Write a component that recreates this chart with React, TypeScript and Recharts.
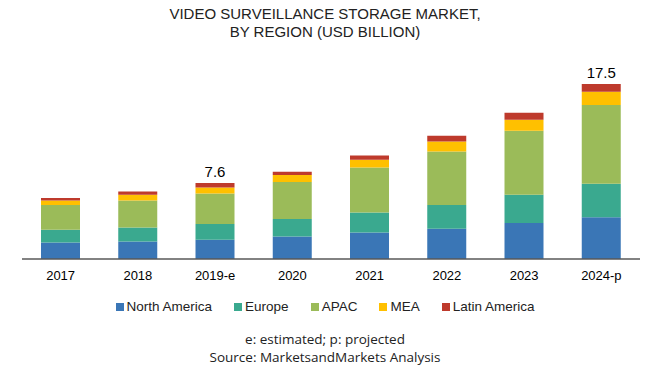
import React from "react";
import { BarChart, Bar, XAxis, YAxis, LabelList } from "recharts";

const years = ["2017", "2018", "2019-e", "2020", "2021", "2022", "2023", "2024-p"];
const northAmerica = [1.65, 1.76, 1.92, 2.26, 2.66, 3.03, 3.6, 4.17];
const europe = [1.27, 1.4, 1.59, 1.74, 2.0, 2.37, 2.83, 3.35];
const apac = [2.47, 2.7, 3.05, 3.7, 4.5, 5.36, 6.4, 7.87];
const mea = [0.46, 0.57, 0.6, 0.7, 0.77, 1.0, 1.1, 1.33];
const latinAmerica = [0.24, 0.33, 0.44, 0.33, 0.43, 0.57, 0.7, 0.78];
const shownTotals = ["2019-e", "2024-p"];

const series = [
  { key: "na", name: "North America", values: northAmerica, color: "#3A76B6" },
  { key: "eu", name: "Europe", values: europe, color: "#3AA98F" },
  { key: "apac", name: "APAC", values: apac, color: "#9BBB59" },
  { key: "mea", name: "MEA", values: mea, color: "#FFC000" },
  { key: "la", name: "Latin America", values: latinAmerica, color: "#BE3A2C" },
];

const data = years.map((year, i) => {
  const row: any = { year };
  let total = 0;
  series.forEach((s) => {
    row[s.key] = s.values[i];
    total += s.values[i];
  });
  row.total = Math.round(total * 10) / 10;
  return row;
});

const font = "'Liberation Sans', Arial, sans-serif";

const TotalLabel = (props: any) => {
  const { x, y, width, index } = props;
  const row = data[index];
  if (!shownTotals.includes(row.year)) return null;
  return (
    <text x={x + width / 2} y={y - 6} textAnchor="middle" fontSize={15} fontFamily={font} fill="#000">
      {row.total.toFixed(1)}
    </text>
  );
};

export default function App() {
  return (
    <div style={{ position: "absolute", left: 0, top: 0, width: 650, height: 369, background: "#fff", fontFamily: font }}>
      <div style={{ position: "absolute", top: 5, left: 0, width: 650, textAlign: "center", fontFamily: "'Liberation Sans Narrow', 'Liberation Sans', sans-serif", fontSize: 15, lineHeight: "18px", color: "#222" }}>
        VIDEO SURVEILLANCE STORAGE MARKET,
        <br />
        BY REGION (USD BILLION)
      </div>
      <BarChart width={650} height={369} data={data} margin={{ top: 59, right: 10, left: 22, bottom: 80 }}>
        <YAxis hide domain={[0, 20]} />
        <XAxis
          dataKey="year"
          tickLine={false}
          axisLine={{ stroke: "#595959", strokeWidth: 1.5 }}
          tick={{ fill: "#000", fontSize: 13, fontFamily: font }}
          tickMargin={6}
        />
        {series.map((s, i) => (
          <Bar key={s.key} dataKey={s.key} name={s.name} stackId="a" fill={s.color} barSize={39} isAnimationActive={false}>
            {i === series.length - 1 && <LabelList dataKey="total" content={TotalLabel} />}
          </Bar>
        ))}
      </BarChart>
      <div style={{ position: "absolute", top: 299, left: 0, width: 650, display: "flex", justifyContent: "center", gap: 22, fontSize: 13.5, color: "#222" }}>
        {series.map((s) => (
          <span key={s.key} style={{ display: "flex", alignItems: "center" }}>
            <span style={{ width: 8, height: 8, background: s.color, marginRight: 3, display: "inline-block" }} />
            {s.name}
          </span>
        ))}
      </div>
      <div style={{ position: "absolute", top: 330, left: 0, width: 650, textAlign: "center", fontFamily: "'Open Sans', sans-serif", fontSize: 13.5, lineHeight: "18px", color: "#222" }}>
        <div>e: estimated; p: projected</div>
        <div>Source: MarketsandMarkets Analysis</div>
      </div>
    </div>
  );
}
